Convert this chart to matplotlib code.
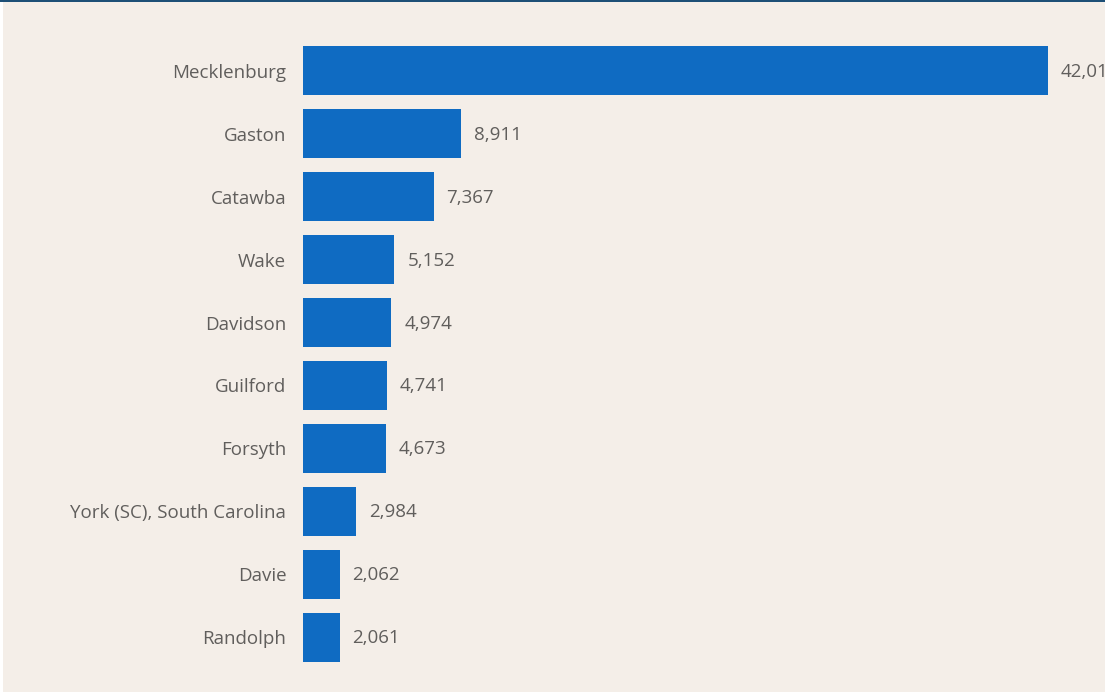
import matplotlib.pyplot as plt
from matplotlib.patches import Rectangle

counties = ["Mecklenburg", "Gaston", "Catawba", "Wake", "Davidson", "Guilford",
            "Forsyth", "York (SC), South Carolina", "Davie", "Randolph"]
values = [42013, 8911, 7367, 5152, 4974, 4741, 4673, 2984, 2062, 2061]

bg = "#F4EEE8"
bar_color = "#0F6BC2"
text_color = "#605E5C"

plt.rcParams['font.family'] = ['Open Sans', 'DejaVu Sans']

W, H = 1105, 692
fig = plt.figure(figsize=(W / 100, H / 100), dpi=100, facecolor=bg)

# white strip at left edge and dark rule at the top
fig.patches.append(Rectangle((0, 0), 3 / W, 1, transform=fig.transFigure,
                             facecolor="white", edgecolor="none", zorder=0))
fig.patches.append(Rectangle((0, 1 - 2 / H), 1, 2 / H, transform=fig.transFigure,
                             facecolor="#1D4F76", edgecolor="none", zorder=0))

left = 303 / W
ax = fig.add_axes([left, (H - 668.5) / H, 1 - left, 629 / H])
ax.set_facecolor("none")

y = range(len(counties))
ax.barh(y, values, height=0.78, color=bar_color)
ax.set_ylim(len(counties) - 0.5, -0.5)
ax.set_xlim(0, 802 / 0.01773)

# value labels; the first one runs off the right edge, as in the source
for i, v in enumerate(values):
    ax.annotate(f"{v:,}", (v, i), xytext=(13, -1), textcoords="offset pixels",
                va="center", ha="left", fontsize=13.5, color=text_color,
                annotation_clip=False)

ax.set_yticks(list(y))
ax.set_yticklabels(counties, fontsize=13.5, color=text_color)
ax.tick_params(axis="y", length=0, pad=12)
ax.set_xticks([])
for s in ax.spines.values():
    s.set_visible(False)

fig.savefig("out.png", dpi=100, facecolor=bg)
